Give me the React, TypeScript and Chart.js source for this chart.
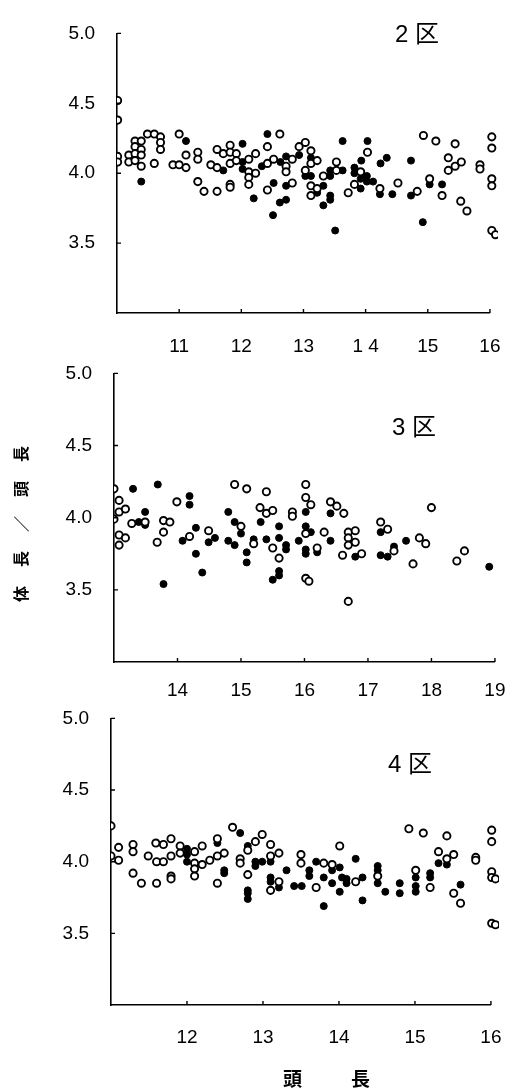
import React, { useEffect, useRef } from 'react';
import { Chart, registerables } from 'chart.js';

Chart.register(...registerables);

// ---------- data ----------
const yTickValues = [3.5, 4.0, 4.5, 5.0];
const yTickLabels = ['3.5', '4.0', '4.5', '5.0'];

// 2区
const xTicks2 = [11, 12, 13, 14, 15, 16];
const xTickLabels2 = ['11', '12', '13', '1 4', '15', '16'];
const open2: number[][] = [
  [10.01, 4.52], [10.01, 4.38], [10.01, 4.12], [10.01, 4.08],
  [10.19, 4.13], [10.19, 4.08],
  [10.29, 4.23], [10.29, 4.19], [10.29, 4.14], [10.29, 4.09],
  [10.39, 4.23], [10.39, 4.17], [10.39, 4.13], [10.39, 4.05],
  [10.49, 4.28], [10.6, 4.28], [10.7, 4.26], [10.7, 4.22], [10.7, 4.17],
  [10.6, 4.07], [11.0, 4.28], [11.11, 4.13], [10.9, 4.06], [11.0, 4.06], [11.11, 4.04],
  [11.3, 4.15], [11.3, 4.1], [11.3, 3.94], [11.4, 3.87], [11.61, 3.87],
  [11.51, 4.06], [11.61, 4.04], [11.61, 4.17], [11.71, 4.14], [11.82, 4.2], [11.82, 4.15], [11.82, 4.07],
  [11.82, 3.92], [11.82, 3.9], [11.92, 4.14], [11.92, 4.09],
  [12.12, 4.1], [12.12, 4.01], [12.12, 3.97], [12.12, 3.92], [12.23, 4.14], [12.23, 4.0],
  [12.42, 4.19], [12.42, 4.07], [12.42, 3.88], [12.52, 4.1], [12.62, 4.28], [12.72, 4.05], [12.72, 4.01],
  [12.82, 3.93], [12.82, 4.1],
  [12.93, 4.19], [13.03, 4.22], [13.03, 4.02], [13.12, 4.16], [13.12, 4.07], [13.22, 4.09], [13.12, 3.91],
  [13.12, 3.84], [13.22, 3.89], [13.32, 3.98], [13.53, 4.08], [13.53, 4.02], [13.72, 3.86], [13.82, 3.92],
  [13.92, 4.01], [14.03, 4.15], [14.23, 3.89], [14.52, 3.93], [14.83, 3.87], [14.93, 4.27], [15.03, 3.96],
  [15.23, 3.84], [15.13, 4.23], [15.33, 4.11], [15.33, 4.02], [15.44, 4.21], [15.44, 4.05], [15.54, 4.08],
  [15.53, 3.8], [15.63, 3.73], [15.84, 4.06], [15.84, 4.03], [16.03, 4.26], [16.03, 4.18], [16.11, 4.12],
  [16.03, 3.96], [16.03, 3.91], [16.11, 3.89], [16.03, 3.59], [16.09, 3.56],
];
const filled2: number[][] = [
  [10.39, 3.94], [11.11, 4.23], [11.71, 4.02], [12.02, 4.21], [12.02, 4.08], [12.02, 4.03], [12.2, 3.82],
  [12.33, 4.05], [12.42, 4.28], [12.51, 3.7], [12.52, 3.93], [12.62, 3.79], [12.72, 3.81], [12.72, 3.91],
  [12.72, 4.12], [12.63, 4.08],
  [12.93, 4.13], [13.03, 3.98], [13.12, 3.98], [13.12, 4.11], [13.22, 3.86], [13.32, 3.91], [13.32, 3.77],
  [13.43, 4.02], [13.43, 3.98], [13.43, 3.84], [13.43, 3.81], [13.63, 4.02], [13.63, 4.23], [13.51, 3.59],
  [13.82, 4.04], [13.82, 4.0], [13.92, 3.89], [13.92, 3.96], [14.03, 4.23], [13.93, 4.09], [14.02, 3.98],
  [14.02, 3.94], [14.12, 3.94], [14.23, 3.85], [14.24, 4.07], [14.34, 4.11], [14.43, 3.85], [14.73, 4.09],
  [14.73, 3.84], [14.92, 3.65], [15.03, 3.92], [15.23, 3.92],
];

// 3区
const xTicks3 = [14, 15, 16, 17, 18, 19];
const xTickLabels3 = ['14', '15', '16', '17', '18', '19'];
const open3: number[][] = [
  [13.0, 4.2], [13.0, 3.99], [13.08, 4.12], [13.08, 4.04], [13.18, 4.06], [13.08, 3.88], [13.18, 3.86],
  [13.08, 3.81], [13.28, 3.96], [13.49, 3.97], [13.78, 3.98], [13.88, 3.97], [13.78, 3.9], [13.68, 3.83],
  [13.99, 4.11], [14.19, 3.87], [14.49, 3.91], [14.9, 4.23], [15.09, 4.2], [15.4, 4.18], [15.3, 4.07],
  [15.4, 4.03], [15.5, 4.05], [15.0, 3.94], [15.2, 3.82], [15.5, 3.79], [15.6, 3.72], [15.81, 4.04],
  [15.81, 4.01], [16.02, 4.23], [16.02, 4.14], [16.02, 3.89], [16.02, 3.58], [16.07, 3.56],
  [16.1, 4.09], [16.41, 4.11], [16.51, 4.08], [16.62, 4.03], [16.31, 3.9], [16.2, 3.79], [16.6, 3.74],
  [16.69, 3.9], [16.8, 3.91], [16.69, 3.86], [16.8, 3.83], [16.69, 3.81], [16.9, 3.75], [17.2, 3.97],
  [17.31, 3.92], [17.41, 3.77], [17.81, 3.86], [17.91, 3.82], [17.71, 3.68], [18.0, 4.07], [18.52, 3.77],
  [18.4, 3.7], [16.69, 3.42],
];
const filled3: number[][] = [
  [13.3, 4.2], [13.69, 4.23], [13.39, 3.97], [13.49, 4.04], [13.49, 3.95], [14.19, 4.15], [14.19, 4.09],
  [13.78, 3.54], [14.08, 3.84], [14.29, 3.93], [14.29, 3.75], [14.39, 3.62], [14.49, 3.83], [14.59, 3.86],
  [14.8, 4.04], [14.8, 3.84], [14.9, 3.97], [14.9, 3.81], [15.0, 3.89], [15.09, 3.76], [15.09, 3.69],
  [15.2, 3.85], [15.31, 3.97], [15.4, 3.85], [15.6, 3.94], [15.6, 3.86], [15.71, 3.81], [15.71, 3.78],
  [15.6, 3.63], [15.6, 3.6], [15.5, 3.57], [15.91, 3.84], [16.02, 4.04], [16.02, 3.94], [16.02, 3.78],
  [16.02, 3.75], [16.1, 3.9], [16.2, 3.76], [16.41, 4.03], [16.41, 3.84], [16.8, 3.73], [17.2, 3.9],
  [17.2, 3.74], [17.31, 3.73], [17.41, 3.8], [17.6, 3.84], [18.91, 3.66],
];

// 4区
const xTicks4 = [12, 13, 14, 15, 16];
const xTickLabels4 = ['12', '13', '14', '15', '16'];
const open4: number[][] = [
  [11.0, 4.25], [11.0, 4.04], [11.1, 4.1], [11.1, 4.01], [11.29, 4.12], [11.29, 4.07], [11.29, 3.92],
  [11.4, 3.85], [11.49, 4.04], [11.59, 4.13], [11.6, 4.0], [11.6, 3.85], [11.69, 4.12], [11.69, 4.0],
  [11.79, 4.16], [11.79, 4.04], [11.79, 3.9], [11.79, 3.88], [11.91, 4.11], [11.91, 4.06], [12.1, 4.07],
  [12.1, 3.99], [12.1, 3.95], [12.1, 3.9], [12.2, 4.11], [12.2, 3.98], [12.3, 4.01], [12.4, 4.16],
  [12.4, 4.04], [12.4, 3.85], [12.49, 4.06], [12.6, 4.24], [12.7, 4.02], [12.7, 3.99], [12.8, 4.08],
  [12.8, 3.91], [12.9, 4.14], [12.99, 4.19], [13.1, 4.12], [13.1, 4.04], [13.1, 3.8], [13.21, 4.06],
  [13.21, 3.86], [13.5, 4.05], [13.5, 3.99],
  [13.7, 3.82], [13.8, 3.99], [13.91, 3.98], [14.01, 4.11], [14.22, 3.86], [14.51, 3.9], [14.92, 4.23],
  [15.11, 4.2], [15.42, 4.18], [15.31, 4.07], [15.42, 4.02], [15.51, 4.05], [15.01, 3.94], [15.2, 3.82],
  [15.51, 3.78], [15.6, 3.71], [15.8, 4.03], [15.8, 4.01], [16.01, 4.22], [16.01, 4.14], [16.08, 4.09],
  [16.01, 3.93], [16.01, 3.89], [16.06, 3.88], [16.01, 3.57], [16.06, 3.56],
];
const filled4: number[][] = [
  [12.0, 4.09], [12.0, 4.05], [12.0, 4.0], [12.4, 4.13], [12.49, 3.94], [12.49, 3.92], [12.7, 4.2],
  [12.8, 4.11], [12.8, 3.8], [12.8, 3.78], [12.8, 3.74], [12.9, 4.0], [12.9, 3.97], [12.99, 4.0],
  [13.1, 4.0], [13.1, 3.89], [13.1, 3.86], [13.21, 3.82], [13.31, 3.94], [13.41, 3.83], [13.51, 3.83],
  [13.61, 3.94], [13.61, 3.9], [13.7, 4.0], [13.8, 3.89], [13.8, 3.69], [13.91, 3.94], [13.91, 3.85],
  [14.01, 3.96], [14.01, 3.79], [14.1, 3.88], [14.1, 3.85], [14.22, 4.02], [14.31, 3.89], [14.31, 3.73],
  [14.51, 3.97], [14.51, 3.94], [14.51, 3.85], [14.61, 3.79], [14.8, 3.85], [14.8, 3.78], [15.01, 3.89],
  [15.01, 3.83], [15.01, 3.79], [15.2, 3.92], [15.2, 3.89], [15.31, 3.99], [15.42, 3.98], [15.6, 3.84],
  [14.04, 3.89],
];

const panelTitles = ['2 区', '3 区', '4 区'];
const yTitle = '体長／頭長';
const xTitle = '頭　長';

// ---------- layout ----------
const W = 523;
const FONT = '"Liberation Sans", Arial, Helvetica, sans-serif';

type Panel = {
  top: number; height: number;
  left: number; right: number; areaTop: number; areaBottom: number;
  xMin: number; xMax: number; xTicks: number[]; xLabels: string[];
  open: number[][]; filled: number[][]; xPad: number;
};

const panels: Panel[] = [
  { top: 0, height: 360, left: 117, right: 508, areaTop: 18, areaBottom: 313, xMin: 10, xMax: 16,
    xTicks: xTicks2, xLabels: xTickLabels2, open: open2, filled: filled2, xPad: 23 },
  { top: 340, height: 365, left: 114, right: 505, areaTop: 18, areaBottom: 322, xMin: 13, xMax: 19,
    xTicks: xTicks3, xLabels: xTickLabels3, open: open3, filled: filled3, xPad: 18 },
  { top: 685, height: 406, left: 111, right: 502, areaTop: 19, areaBottom: 320, xMin: 11, xMax: 16,
    xTicks: xTicks4, xLabels: xTickLabels4, open: open4, filled: filled4, xPad: 22 },
];

const titlePos = [
  { left: 395, cy: 34 },
  { left: 392, cy: 427 },
  { left: 388, cy: 764 },
];

const innerTicks = {
  id: 'innerTicks',
  afterDraw(chart: any) {
    const { ctx, chartArea: a, scales } = chart;
    const x = scales.x, y = scales.y;
    ctx.save();
    ctx.strokeStyle = '#000';
    ctx.lineWidth = 1.4;
    ctx.beginPath();
    x.ticks.forEach((t: any) => {
      const px = x.getPixelForValue(t.value);
      ctx.moveTo(px, a.bottom);
      ctx.lineTo(px, a.bottom - 4);
    });
    y.ticks.forEach((t: any) => {
      const py = y.getPixelForValue(t.value);
      ctx.moveTo(a.left, py);
      ctx.lineTo(a.left + 4, py);
    });
    ctx.stroke();
    ctx.restore();
  },
};

function makeChart(canvas: HTMLCanvasElement, p: Panel) {
  const clip = { left: 0, top: false, right: 8, bottom: false } as any;
  return new Chart(canvas, {
    type: 'scatter',
    data: {
      datasets: [
        {
          data: p.open.map(([x, y]) => ({ x, y })),
          pointRadius: 3.6,
          pointBorderWidth: 1.9,
          pointBackgroundColor: '#fff',
          pointBorderColor: '#000',
          clip,
        },
        {
          data: p.filled.map(([x, y]) => ({ x, y })),
          pointRadius: 3.5,
          pointBorderWidth: 1,
          pointBackgroundColor: '#000',
          pointBorderColor: '#000',
          clip,
        },
      ],
    },
    options: {
      responsive: false,
      animation: false,
      events: [],
      layout: { padding: { left: 0, top: p.areaTop, right: W - p.right, bottom: 0 } },
      plugins: { legend: { display: false }, tooltip: { enabled: false } },
      scales: {
        x: {
          type: 'linear',
          position: 'bottom',
          min: p.xMin,
          max: p.xMax,
          grid: { display: false, drawTicks: false },
          border: { display: true, color: '#000', width: 1.6 },
          ticks: {
            padding: p.xPad - 0.5,
            color: '#000',
            autoSkip: false,
            maxRotation: 0,
            font: { family: FONT, size: 19 },
            callback: (_v: any, i: number) => p.xLabels[i],
          },
          afterBuildTicks: (s: any) => { s.ticks = p.xTicks.map((v) => ({ value: v })); },
          afterFit: (s: any) => { s.height = p.height - p.areaBottom; },
        },
        y: {
          type: 'linear',
          position: 'left',
          min: 3.0,
          max: 5.0,
          grid: { display: false, drawTicks: false },
          border: { display: true, color: '#000', width: 1.6 },
          ticks: {
            padding: 22,
            color: '#000',
            autoSkip: false,
            font: { family: FONT, size: 19 },
            callback: (_v: any, i: number) => yTickLabels[i],
          },
          afterBuildTicks: (s: any) => { s.ticks = yTickValues.map((v) => ({ value: v })); },
          afterFit: (s: any) => { s.width = p.left; },
        },
      },
    } as any,
    plugins: [innerTicks],
  });
}

export default function App() {
  const refs = [useRef<HTMLCanvasElement>(null), useRef<HTMLCanvasElement>(null), useRef<HTMLCanvasElement>(null)];

  useEffect(() => {
    const charts = panels.map((p, i) => makeChart(refs[i].current as HTMLCanvasElement, p));
    return () => charts.forEach((c) => c.destroy());
  }, []);

  return (
    <div style={{ position: 'absolute', left: 0, top: 0, width: W, height: 1091, overflow: 'hidden', background: '#fff' }}>
      {panels.map((p, i) => (
        <canvas
          key={i}
          ref={refs[i]}
          width={W}
          height={p.height}
          style={{ position: 'absolute', left: 0, top: p.top, width: W, height: p.height }}
        />
      ))}
      {panelTitles.map((t, i) => (
        <div
          key={'t' + i}
          style={{
            position: 'absolute', left: titlePos[i].left, top: titlePos[i].cy - 12,
            fontFamily: '"Liberation Sans", "Noto Sans CJK JP", sans-serif', fontSize: 24, lineHeight: '24px',
            color: '#000', whiteSpace: 'pre',
          }}
        >{t}</div>
      ))}
      <div
        style={{
          position: 'absolute', left: 20, top: 524, transform: 'translate(-50%, -50%) rotate(-90deg)',
          fontFamily: '"Noto Sans CJK JP", sans-serif', fontWeight: 700, fontSize: 16, lineHeight: '16px',
          letterSpacing: 19, paddingLeft: 19, whiteSpace: 'nowrap', color: '#000',
        }}
      >{yTitle}</div>
      <div
        style={{
          position: 'absolute', left: 326.5, top: 1077, transform: 'translate(-50%, -50%)',
          fontFamily: '"Noto Sans CJK JP", sans-serif', fontWeight: 700, fontSize: 19, lineHeight: '19px',
          letterSpacing: 15, paddingLeft: 15, whiteSpace: 'nowrap', color: '#000',
        }}
      >{xTitle}</div>
    </div>
  );
}
